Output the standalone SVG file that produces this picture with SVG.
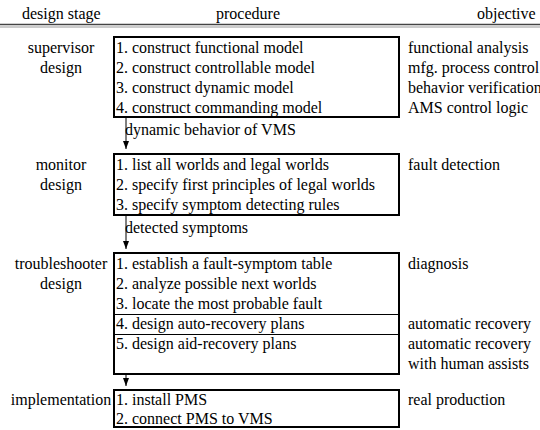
<svg xmlns="http://www.w3.org/2000/svg" width="540" height="430" viewBox="0 0 540 430">
<style>
text{font-family:"Liberation Serif","Times New Roman",serif;font-size:16px;fill:#000}
.st{text-anchor:middle}
.box{fill:none;stroke:#000;stroke-width:2}
.sep{stroke:#000;stroke-width:1}
.conn{stroke:#000;stroke-width:1;fill:none}
</style>
<defs>
<marker id="ah" viewBox="0 0 8 6" refX="8" refY="3" markerWidth="8" markerHeight="6" markerUnits="userSpaceOnUse" orient="auto">
<path d="M0,0 L8,3 L0,6 Z" fill="#000"/>
</marker>
</defs>
<rect width="540" height="430" fill="#fff"/>
<g id="header" font-family="Liberation Serif, serif">
<text x="22" y="19">design stage</text>
<text class="st" x="248" y="19">procedure</text>
<text x="477" y="19">objective</text>
<line x1="0" y1="24.5" x2="540" y2="24.5" stroke="#444" stroke-width="1.5"/>
<line x1="0" y1="27" x2="540" y2="27" stroke="#999" stroke-width="1"/>
</g>
<g id="supervisor" font-family="Liberation Serif, serif">
<text class="st" x="61" y="52.5">supervisor</text>
<text class="st" x="61" y="72.5">design</text>
<rect class="box" x="114" y="37" width="285" height="80"/>
<text x="116" y="52.5">1. construct functional model</text>
<text x="116" y="72.5">2. construct controllable model</text>
<text x="116" y="92.5">3. construct dynamic model</text>
<text x="116" y="112.5">4. construct commanding model</text>
<text x="408" y="52.5">functional analysis</text>
<text x="408" y="72.5">mfg. process control</text>
<text x="408" y="92.5">behavior verification</text>
<text x="408" y="112.5">AMS control logic</text>
</g>
<g id="monitor" font-family="Liberation Serif, serif">
<text class="st" x="61" y="170">monitor</text>
<text class="st" x="61" y="190">design</text>
<rect class="box" x="114" y="154" width="285" height="61"/>
<text x="116" y="170">1. list all worlds and legal worlds</text>
<text x="116" y="190">2. specify first principles of legal worlds</text>
<text x="116" y="210">3. specify symptom detecting rules</text>
<text x="408" y="170">fault detection</text>
</g>
<g id="troubleshooter" font-family="Liberation Serif, serif">
<text class="st" x="61" y="269">troubleshooter</text>
<text class="st" x="61" y="289">design</text>
<rect class="box" x="114" y="253" width="285" height="121"/>
<line class="sep" x1="114" y1="314.5" x2="399" y2="314.5"/>
<line class="sep" x1="114" y1="334.5" x2="399" y2="334.5"/>
<text x="116" y="309">3. locate the most probable fault</text>
<text x="116" y="269">1. establish a fault-symptom table</text>
<text x="116" y="289">2. analyze possible next worlds</text>
<text x="116" y="329">4. design auto-recovery plans</text>
<text x="116" y="349">5. design aid-recovery plans</text>
<text x="408" y="269">diagnosis</text>
<text x="408" y="329">automatic recovery</text>
<text x="408" y="349">automatic recovery</text>
<text x="408" y="369">with human assists</text>
</g>
<g id="implementation" font-family="Liberation Serif, serif">
<text class="st" x="61" y="405">implementation</text>
<rect class="box" x="114" y="390" width="285" height="37"/>
<text x="116" y="405">1. install PMS</text>
<text x="116" y="423.5">2. connect PMS to VMS</text>
<text x="408" y="405">real production</text>
</g>
<g id="connectors" font-family="Liberation Serif, serif">
<line class="conn" x1="126" y1="118" x2="126" y2="149" marker-end="url(#ah)"/>
<text x="125" y="135">dynamic behavior of VMS</text>
<line class="conn" x1="126" y1="216" x2="126" y2="249" marker-end="url(#ah)"/>
<text x="125" y="233">detected symptoms</text>
<line class="conn" x1="126" y1="375" x2="126" y2="386" marker-end="url(#ah)"/>
</g>
</svg>
